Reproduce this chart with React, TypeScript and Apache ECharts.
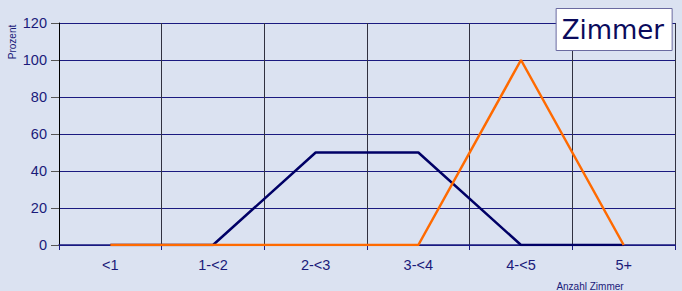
import React, { useEffect, useRef } from "react";
import * as echarts from "echarts";

const categories = ["<1", "1-<2", "2-<3", "3-<4", "4-<5", "5+"];
const seriesNavy = [0, 0, 50, 50, 0, 0];
const seriesOrange = [0, 0, 0, 0, 100, 0];
const yTicks = [0, 20, 40, 60, 80, 100, 120];

export default function App() {
  const ref = useRef<HTMLDivElement>(null);
  useEffect(() => {
    const chart = echarts.init(ref.current!, null, { renderer: "svg" });
    const labelColor = "#1a1a7a";
    chart.setOption({
      animation: false,
      backgroundColor: "#dbe2f1",
      title: {
        text: "Zimmer",
        right: 10,
        top: 8,
        backgroundColor: "#ffffff",
        borderColor: "#6a6aa0",
        borderWidth: 1,
        padding: [9, 8, 8, 6],
        textStyle: {
          fontFamily: "DejaVu Sans",
          fontSize: 26,
          fontWeight: "normal",
          color: "#0a0a5c",
        },
      },
      grid: { left: 59, right: 7, top: 23, bottom: 46 },
      xAxis: {
        type: "category",
        data: categories,
        boundaryGap: true,
        axisLine: { lineStyle: { color: "#1a1a80", width: 1.5 } },
        axisTick: { show: true, length: 5, lineStyle: { color: "#1a1a80" } },
        axisLabel: {
          color: labelColor,
          fontFamily: "Liberation Sans, Arial",
          fontSize: 14.5,
          margin: 12,
        },
        splitLine: { show: true, lineStyle: { color: "#303040", width: 1 } },
      },
      yAxis: {
        type: "value",
        min: yTicks[0],
        max: yTicks[yTicks.length - 1],
        interval: 20,
        axisLine: { show: true, lineStyle: { color: "#000000", width: 1 } },
        axisTick: { show: true, length: 8, lineStyle: { color: "#555" } },
        axisLabel: {
          color: labelColor,
          fontFamily: "Liberation Sans, Arial",
          fontSize: 14.5,
          margin: 12,
        },
        splitLine: { show: true, lineStyle: { color: "#1a1a80", width: 1 } },
      },
      graphic: [
        {
          type: "text",
          x: 12,
          y: 42,
          rotation: Math.PI / 2,
          style: {
            text: "Prozent",
            fill: labelColor,
            font: "10px Liberation Sans, Arial",
            align: "center",
            verticalAlign: "middle",
          },
        },
        {
          type: "text",
          x: 590,
          y: 286,
          style: {
            text: "Anzahl Zimmer",
            fill: labelColor,
            font: "10px Liberation Sans, Arial",
            align: "center",
            verticalAlign: "middle",
          },
        },
      ],
      series: [
        {
          type: "line",
          data: seriesNavy,
          symbol: "none",
          lineStyle: { color: "#000066", width: 2.5 },
          itemStyle: { color: "#000066" },
        },
        {
          type: "line",
          data: seriesOrange,
          symbol: "none",
          lineStyle: { color: "#ff6a00", width: 2.5 },
          itemStyle: { color: "#ff6a00" },
        },
      ],
    });
    return () => chart.dispose();
  }, []);
  return <div ref={ref} style={{ width: 682, height: 291, position: "absolute", left: 0, top: 0 }} />;
}
